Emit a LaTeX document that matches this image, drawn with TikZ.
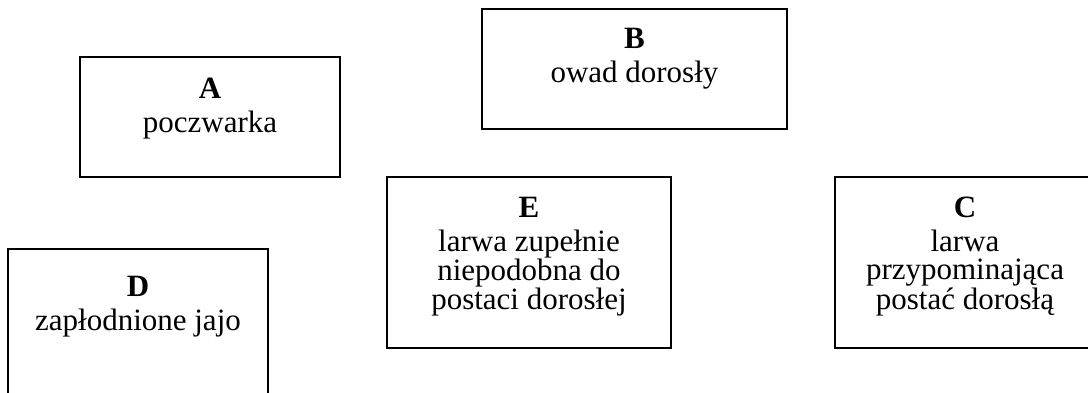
\documentclass[tikz,border=0pt]{standalone}
\usepackage{fontspec}
\setmainfont{Liberation Serif}
\begin{document}
\begin{tikzpicture}[x=1pt,y=-1pt,
  stagebox/.style={draw, line width=1.6pt, inner sep=0pt},
  stagetext/.style={anchor=north, align=center, inner sep=0pt,
    font=\fontsize{31}{28}\selectfont}]
\useasboundingbox (0,0) rectangle (1088,392);
\begin{scope}
\clip (0,0) rectangle (1088,392);
% stage boxes
\node[stagebox, minimum width=260pt, minimum height=120pt] (A) at (210,117) {};
\node[stagebox, minimum width=305pt, minimum height=120pt] (B) at (634.5,69) {};
\node[stagebox, minimum width=284pt, minimum height=171pt] (E) at (529,262.5) {};
\node[stagebox, minimum width=260pt, minimum height=171pt] (C) at (965,262.5) {};
\node[stagebox, minimum width=260pt, minimum height=171pt] (D) at (138,334.5) {};
% stage descriptions
\node[stagetext] (At) at ([yshift=-22pt]A.north) {\textbf{A}\\[6pt]poczwarka};
\node[stagetext] (Bt) at ([yshift=-20pt]B.north) {\textbf{B}\\[6pt]owad dorosły};
\node[stagetext] (Et) at ([yshift=-21pt]E.north) {\textbf{E}\\[6pt]larwa zupełnie\\niepodobna do\\postaci dorosłej};
\node[stagetext] (Ct) at ([yshift=-21pt]C.north) {\textbf{C}\\[6pt]larwa\\przypominająca\\postać dorosłą};
\node[stagetext] (Dt) at ([yshift=-28pt]D.north) {\textbf{D}\\[6pt]zapłodnione jajo};
\end{scope}
\end{tikzpicture}
\end{document}
